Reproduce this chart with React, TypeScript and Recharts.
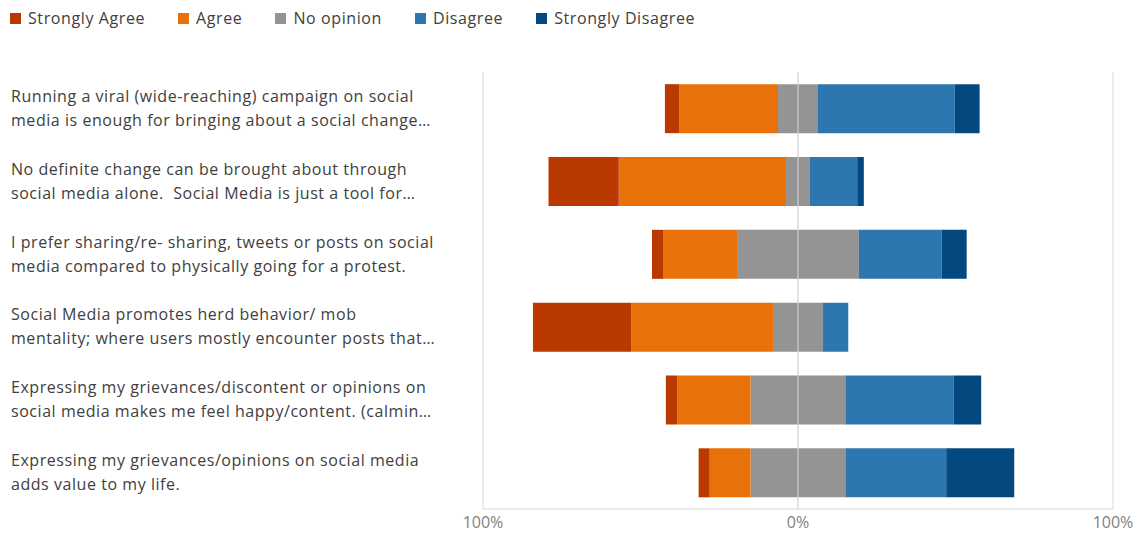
import React from "react";
import {
  BarChart,
  Bar,
  XAxis,
  YAxis,
  CartesianGrid,
  Legend,
  ReferenceLine,
} from "recharts";

// ── Data ──────────────────────────────────────────────────────────────────────

const statements: [string, string][] = [
  ["Running a viral (wide-reaching) campaign on social", "media is enough for bringing about a social change…"],
  ["No definite change can be brought about through", "social media alone.  Social Media is just a tool for…"],
  ["I prefer sharing/re- sharing, tweets or posts on social", "media compared to physically going for a protest."],
  ["Social Media promotes herd behavior/ mob", "mentality; where users mostly encounter posts that…"],
  ["Expressing my grievances/discontent or opinions on", "social media makes me feel happy/content. (calmin…"],
  ["Expressing my grievances/opinions on social media", "adds value to my life."],
];

const stronglyAgree = [4.5, 22.3, 3.5, 31.3, 3.7, 3.5];
const agree = [31.4, 53.1, 23.5, 44.9, 23.2, 13.0];
const noOpinion = [12.7, 7.6, 38.7, 15.9, 30.1, 30.1];
const disagree = [43.4, 15.0, 26.3, 8.0, 34.3, 32.0];
const stronglyDisagree = [7.9, 2.1, 7.9, 0, 8.8, 21.6];

const xTicks = [-100, 0, 100];

const legendItems = [
  { name: "Strongly Agree", color: "#BA3900" },
  { name: "Agree", color: "#E8710A" },
  { name: "No opinion", color: "#949494" },
  { name: "Disagree", color: "#2C77B0" },
  { name: "Strongly Disagree", color: "#03497F" },
];

// agree side goes negative, neutral is split across zero
const data = statements.map((lines, i) => ({
  name: lines.join(" "),
  nNeg: -noOpinion[i] / 2,
  aNeg: -agree[i],
  saNeg: -stronglyAgree[i],
  nPos: noOpinion[i] / 2,
  d: disagree[i],
  sd: stronglyDisagree[i],
}));

const FONT = "'Open Sans', 'Noto Sans', sans-serif";

// ── Pieces ────────────────────────────────────────────────────────────────────

function StatementTick({ y, payload }: { y?: number; payload?: { index: number } }) {
  const lines = statements[payload?.index ?? 0];
  return (
    <text
      x={11}
      y={y}
      fill="#404040"
      fontSize={16}
      fontFamily={FONT}
      letterSpacing={0.55}
      style={{ whiteSpace: "pre" }}
    >
      <tspan x={11} dy={-6.5}>{lines[0]}</tspan>
      <tspan x={11} dy={24}>{lines[1]}</tspan>
    </text>
  );
}

function LegendRow() {
  return (
    <div
      style={{
        display: "flex",
        alignItems: "center",
        height: 28,
        paddingLeft: 10,
        fontFamily: FONT,
        fontSize: 16,
        letterSpacing: 0.6,
        color: "#404040",
      }}
    >
      {legendItems.map((it) => (
        <div key={it.name} style={{ display: "flex", alignItems: "center", marginRight: 33 }}>
          <span style={{ width: 11, height: 11, background: it.color, marginRight: 7, display: "inline-block" }} />
          <span>{it.name}</span>
        </div>
      ))}
    </div>
  );
}

// ── Component ─────────────────────────────────────────────────────────────────

export default function App() {
  return (
    <div style={{ position: "absolute", top: 0, left: 0, width: 1142, height: 533, background: "#fff" }}>
      <BarChart
        width={1142}
        height={533}
        data={data}
        layout="vertical"
        stackOffset="sign"
        barCategoryGap="16.7%"
        margin={{ top: 44, right: 29, bottom: 0, left: 0 }}
      >
        <CartesianGrid horizontal={false} stroke="#d9d9d9" />
        <XAxis
          type="number"
          domain={[-100, 100]}
          ticks={xTicks}
          tickFormatter={(v: number) => `${Math.abs(v)}%`}
          axisLine={{ stroke: "#d9d9d9" }}
          tickLine={false}
          tickSize={0}
          tickMargin={8}
          height={24}
          tick={{ fill: "#7f7f7f", fontSize: 16, fontFamily: FONT }}
        />
        <YAxis
          type="category"
          dataKey="name"
          width={483}
          axisLine={false}
          tickLine={false}
          interval={0}
          tick={<StatementTick />}
        />
        <Legend
          verticalAlign="top"
          align="left"
          wrapperStyle={{ top: 4, left: 0 }}
          content={() => <LegendRow />}
        />

        <Bar dataKey="nNeg" stackId="s" fill="#949494" isAnimationActive={false} />
        <Bar dataKey="aNeg" stackId="s" fill="#E8710A" isAnimationActive={false} />
        <Bar dataKey="saNeg" stackId="s" fill="#BA3900" isAnimationActive={false} />
        <Bar dataKey="nPos" stackId="s" fill="#949494" isAnimationActive={false} />
        <Bar dataKey="d" stackId="s" fill="#2C77B0" isAnimationActive={false} />
        <Bar dataKey="sd" stackId="s" fill="#03497F" isAnimationActive={false} />

        <ReferenceLine x={0} stroke="#d9d9d9" strokeWidth={1} />
      </BarChart>
    </div>
  );
}
